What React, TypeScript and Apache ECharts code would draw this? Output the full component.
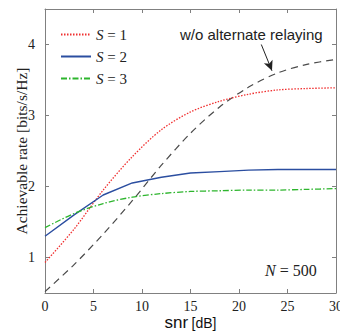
import React, { useEffect, useRef } from "react";
import * as echarts from "echarts";

const snr = [0, 3, 6, 9, 12, 15, 18, 21, 24, 27, 30];
const s1 = [0.93, 1.4, 1.95, 2.42, 2.8, 3.05, 3.2, 3.3, 3.36, 3.38, 3.39];
const s2 = [1.3, 1.6, 1.88, 2.05, 2.13, 2.19, 2.21, 2.23, 2.24, 2.24, 2.24];
const s3 = [1.42, 1.62, 1.76, 1.85, 1.9, 1.93, 1.94, 1.95, 1.95, 1.96, 1.97];
const woAlt = [0.52, 0.9, 1.33, 1.8, 2.3, 2.75, 3.12, 3.4, 3.6, 3.72, 3.79];
const xTicks = [0, 5, 10, 15, 20, 25, 30];
const yTicks = [1, 2, 3, 4];

const pairs = (ys: number[]) => snr.map((x, i) => [x, ys[i]]);

export default function App() {
  const ref = useRef<HTMLDivElement>(null);
  useEffect(() => {
    document.body.style.margin = "0";
    const chart = echarts.init(ref.current!, null, { renderer: "svg" });
    const serif = "Liberation Serif";
    const frame = "#808080";
    const tickCommon = { show: true, inside: true, length: 4, lineStyle: { color: frame } };
    const xBase = {
      type: "value" as const,
      min: 0,
      max: 30,
      axisLine: { show: true, onZero: false, lineStyle: { color: frame } },
      splitLine: { show: false },
    };
    const yBase = {
      type: "value" as const,
      min: 0.5,
      max: 4.5,
      axisLine: { show: true, onZero: false, lineStyle: { color: frame } },
      splitLine: { show: false },
    };
    chart.setOption({
      animation: false,
      backgroundColor: "#fff",
      grid: { left: 45, right: 4, top: 9, bottom: 38, containLabel: false, outerBoundsMode: "none" },
      xAxis: [
        {
          ...xBase,
          position: "bottom",
          axisTick: { ...tickCommon, customValues: xTicks },
          axisLabel: { customValues: xTicks, fontFamily: serif, fontSize: 14, color: "#222", margin: 6 },
          name: "{a|snr} {b|[dB]}",
          nameLocation: "middle",
          nameMoveOverlap: false,
          nameGap: 21,
          nameTextStyle: {
            rich: {
              a: { fontFamily: "Liberation Sans", fontSize: 17, color: "#111" },
              b: { fontFamily: "Liberation Sans", fontSize: 14, color: "#111" },
            },
          },
        },
        {
          ...xBase,
          position: "top",
          axisTick: { ...tickCommon, customValues: xTicks },
          axisLabel: { show: false },
        },
      ],
      yAxis: [
        {
          ...yBase,
          position: "left",
          axisTick: { ...tickCommon, customValues: yTicks },
          axisLabel: { customValues: yTicks, fontFamily: serif, fontSize: 14, color: "#222", margin: 10 },
          name: "Achievable rate [bits/s/Hz]",
          nameLocation: "middle",
          nameMoveOverlap: false,
          nameGap: 16,
          nameTextStyle: { fontFamily: serif, fontSize: 15.5, color: "#222" },
        },
        {
          ...yBase,
          position: "right",
          axisTick: { ...tickCommon, customValues: yTicks },
          axisLabel: { show: false },
        },
      ],
      legend: {
        data: ["S = 1", "S = 2", "S = 3"],
        orient: "vertical",
        left: 55,
        top: 22,
        itemWidth: 30,
        itemHeight: 14,
        itemGap: 7,
        backgroundColor: "#fff",
        itemStyle: { opacity: 0 },
        formatter: (name: string) => "{i|S} = " + name.slice(4),
        textStyle: {
          fontFamily: serif,
          fontSize: 15,
          color: "#222",
          rich: { i: { fontFamily: serif, fontStyle: "italic", fontSize: 15, color: "#222" } },
        },
      },
      series: [
        {
          name: "w/o alternate relaying",
          type: "line",
          data: pairs(woAlt),
          symbol: "none",
          smooth: 0.3,
          lineStyle: { color: "#4a4a4a", width: 1.2, type: [7, 5] },
          itemStyle: { color: "#4a4a4a" },
          markLine: {
            silent: true,
            symbol: ["none", "arrow"],
            symbolSize: [7, 10],
            label: { show: false },
            lineStyle: { color: "#222", width: 1, type: "solid" },
            data: [[{ coord: [22.3, 4.0] }, { coord: [23.4, 3.63] }]],
          },
        },
        {
          name: "S = 1",
          type: "line",
          data: pairs(s1),
          symbol: "none",
          smooth: 0.3,
          lineStyle: { color: "#f03030", width: 1.3, type: [1.5, 1.5] },
          itemStyle: { color: "#f03030" },
        },
        {
          name: "S = 2",
          type: "line",
          data: pairs(s2),
          symbol: "none",
          lineStyle: { color: "#2b4ea0", width: 1.4, type: "solid" },
          itemStyle: { color: "#2b4ea0" },
        },
        {
          name: "S = 3",
          type: "line",
          data: pairs(s3),
          symbol: "none",
          smooth: 0.3,
          lineStyle: { color: "#2db52d", width: 1.3, type: [6, 2, 1.5, 2] },
          itemStyle: { color: "#2db52d" },
        },
      ],
      graphic: [
        {
          type: "text",
          left: 180,
          top: 27,
          style: { text: "w/o alternate relaying", fontFamily: "Liberation Sans", fontSize: 15, fill: "#222" },
        },
        {
          type: "text",
          left: 265,
          top: 262,
          style: {
            text: "{i|N} = 500",
            fontFamily: serif,
            fontSize: 16,
            fill: "#222",
            rich: { i: { fontFamily: serif, fontStyle: "italic", fontSize: 16, fill: "#222" } },
          },
        },
      ],
    });
    return () => chart.dispose();
  }, []);
  return <div ref={ref} style={{ width: 340, height: 331 }} />;
}
